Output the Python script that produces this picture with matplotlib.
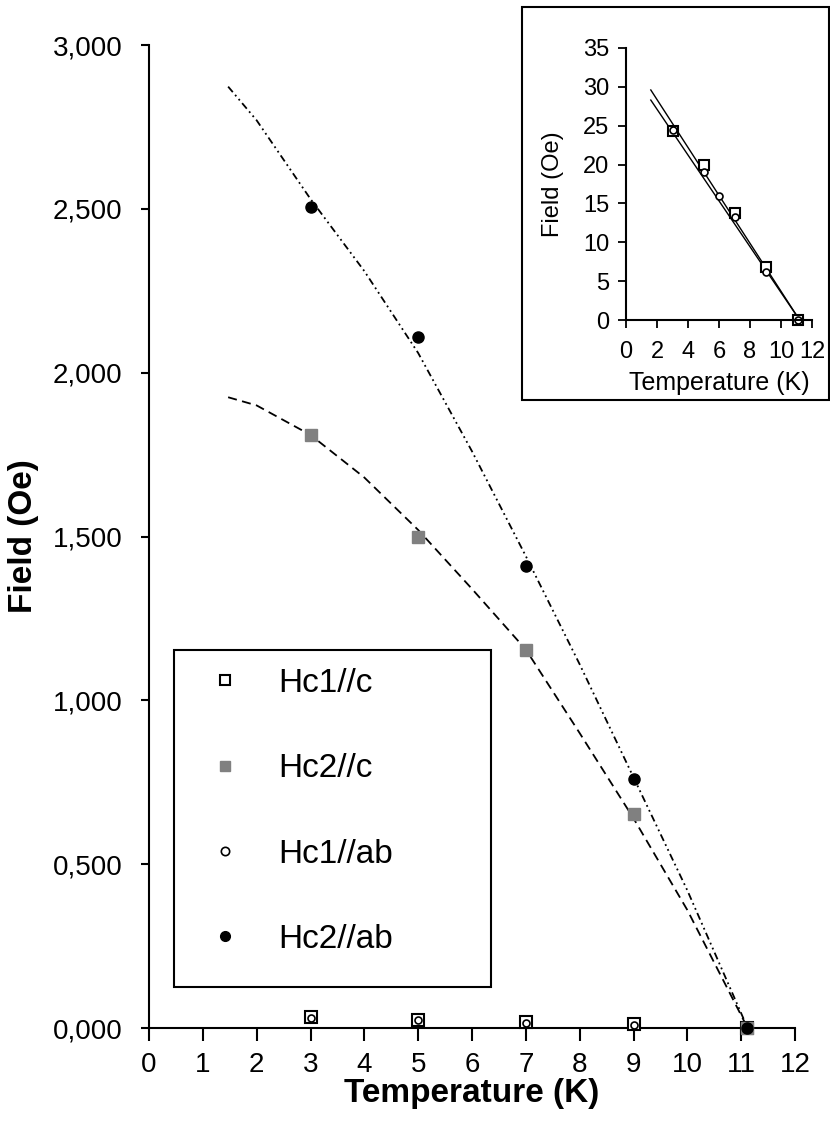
import matplotlib
matplotlib.use("Agg")
import matplotlib.pyplot as plt
from matplotlib.lines import Line2D
from matplotlib.patches import Rectangle
from matplotlib.ticker import FuncFormatter, MultipleLocator

# ---------------- data ----------------
T_pts = [3, 5, 7, 9, 11.1]
hc1_c = [0.034, 0.025, 0.018, 0.011, 0.0]
hc1_ab = [0.032, 0.023, 0.016, 0.009, 0.0]
hc2_c = [1.81, 1.50, 1.155, 0.652, 0.0]
hc2_ab = [2.506, 2.11, 1.41, 0.76, 0.0]

fit_T = [1.47, 2, 3, 4, 5, 6, 7, 8, 9, 10, 11.12]
fit_hc2_ab = [2.873, 2.77, 2.53, 2.31, 2.06, 1.76, 1.44, 1.11, 0.765, 0.42, 0.0]
fit_hc2_c = [1.925, 1.90, 1.81, 1.68, 1.52, 1.34, 1.155, 0.90, 0.64, 0.36, 0.0]

legend_labels = ["Hc1//c", "Hc2//c", "Hc1//ab", "Hc2//ab"]

inset_T_c = [3, 5, 7, 9, 11.1]
inset_hc1_c = [24.3, 20.0, 13.8, 6.8, 0.0]
inset_T_ab = [3, 5, 6, 7, 9, 11.1]
inset_hc1_ab = [24.5, 19.0, 16.0, 13.2, 6.2, 0.0]
inset_fit_T = [1.6, 11.2]
inset_fit_c = [29.6, 0.0]
inset_fit_ab = [28.3, 0.0]

# ---------------- figure ----------------
plt.rcParams["font.family"] = ["Liberation Sans", "DejaVu Sans"]
W, H = 830, 1136
fig = plt.figure(figsize=(W / 100, H / 100), dpi=100)

def fx(px):
    return px / W

def fy(py):
    return 1 - py / H

# main axes: T=0 at x=149, T=12 at x=795; H=0 at y=1028, H=3 at y=45
ax = fig.add_axes([fx(149), fy(1028), fx(795) - fx(149), fy(45) - fy(1028)])
ax.set_xlim(0, 12)
ax.set_ylim(0, 3)
for s in ("top", "right"):
    ax.spines[s].set_visible(False)
for s in ("left", "bottom"):
    ax.spines[s].set_linewidth(1.5)
ax.xaxis.set_major_locator(MultipleLocator(1))
ax.yaxis.set_major_locator(MultipleLocator(0.5))
ax.yaxis.set_major_formatter(FuncFormatter(lambda v, p: f"{v:.3f}".replace(".", ",")))
ax.tick_params(axis="y", direction="out", length=6, width=1.5, labelsize=20, pad=13)
ax.tick_params(axis="x", direction="out", length=9, width=1.5, labelsize=20, pad=8)
ax.set_xlabel("Temperature (K)", fontsize=24, fontweight="bold", labelpad=0)
ax.set_ylabel("Field (Oe)", fontsize=24, fontweight="bold", labelpad=10)

ax.plot(fit_T, fit_hc2_ab, color="black", lw=1.3, ls=(0, (4, 2, 1, 2, 1, 2)), zorder=2)
ax.plot(fit_T, fit_hc2_c, color="black", lw=1.3, ls=(0, (5, 3)), zorder=2)

ax.plot(T_pts, hc1_c, ls="none", marker="s", ms=8, mfc="white", mec="black", mew=1.5,
        clip_on=False, zorder=3)
ax.plot(T_pts, hc1_ab, ls="none", marker="o", ms=5, mfc="white", mec="black", mew=1.2,
        clip_on=False, zorder=4)
ax.plot(T_pts, hc2_c, ls="none", marker="s", ms=8, mfc="#808080", mec="#808080",
        clip_on=False, zorder=3)
ax.plot(T_pts, hc2_ab, ls="none", marker="o", ms=8, mfc="black", mec="black",
        clip_on=False, zorder=4)

# legend
handles = [
    Line2D([], [], ls="none", marker="s", ms=7, mfc="white", mec="black", mew=1.5),
    Line2D([], [], ls="none", marker="s", ms=7, mfc="#808080", mec="#808080"),
    Line2D([], [], ls="none", marker="o", ms=6, mfc="white", mec="black", mew=1.2),
    Line2D([], [], ls="none", marker="o", ms=7, mfc="black", mec="black"),
]
fig.legend(handles, legend_labels, loc="upper left",
           bbox_to_anchor=(fx(208), fy(668)), bbox_transform=fig.transFigure,
           frameon=False, fontsize=24, borderpad=0, borderaxespad=0,
           handlelength=1.0, handletextpad=1.1, labelspacing=1.63, numpoints=1)
fig.patches.append(Rectangle((fx(174), fy(987)), fx(491) - fx(174), fy(650) - fy(987),
                             transform=fig.transFigure, fill=False, ec="black", lw=1.5,
                             zorder=1))

# inset frame
fig.patches.append(Rectangle((fx(522), fy(400)), fx(829) - fx(522), fy(7) - fy(400),
                             transform=fig.transFigure, fc="white", ec="black", lw=1.5,
                             zorder=1))

# inset axes: T=0 at x=626, T=12 at x=812; H=0 at y=320, H=35 at y=48
axi = fig.add_axes([fx(626), fy(320), fx(812) - fx(626), fy(48) - fy(320)], zorder=2)
axi.patch.set_alpha(0)
axi.set_xlim(0, 12)
axi.set_ylim(0, 35)
for s in ("top", "right"):
    axi.spines[s].set_visible(False)
for s in ("left", "bottom"):
    axi.spines[s].set_linewidth(1.5)
axi.xaxis.set_major_locator(MultipleLocator(2))
axi.yaxis.set_major_locator(MultipleLocator(5))
axi.tick_params(direction="out", length=6, width=1.3, labelsize=17, pad=6)
axi.tick_params(axis="x", pad=9)
axi.set_xlabel("Temperature (K)", fontsize=18, labelpad=6)
axi.set_ylabel("Field (Oe)", fontsize=17, labelpad=14)

axi.plot(inset_fit_T, inset_fit_c, color="black", lw=1.0)
axi.plot(inset_fit_T, inset_fit_ab, color="black", lw=1.0)
axi.plot(inset_T_c, inset_hc1_c, ls="none", marker="s", ms=7, mfc="white", mec="black",
         mew=1.5, clip_on=False)
axi.plot(inset_T_ab, inset_hc1_ab, ls="none", marker="o", ms=5, mfc="white", mec="black",
         mew=1.2, clip_on=False)

fig.savefig("out.png", dpi=100)
